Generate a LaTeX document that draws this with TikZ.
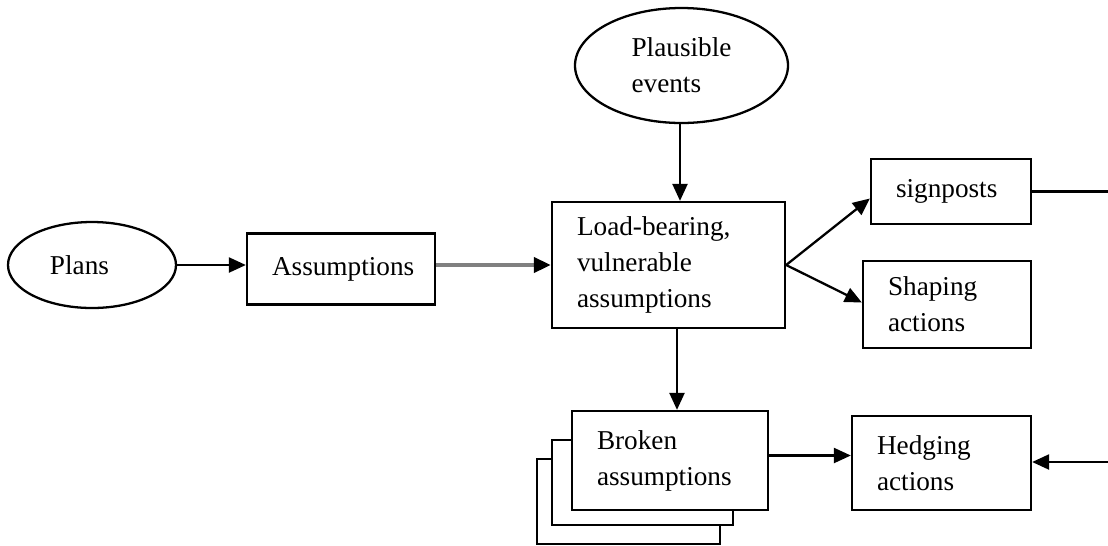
\documentclass[tikz,border=0pt]{standalone}
\usepackage{fontspec}
\setmainfont{Liberation Serif}
\usetikzlibrary{
  calc,
  arrows.meta,
  positioning,
  shapes.geometric
}

\begin{document}
\begin{tikzpicture}[
            font=\fontsize{15.5}{20.5}\selectfont,
            line width=1.3pt,
            oval/.style={ellipse, draw=black, fill=white, align=left, inner sep=0pt},
            box/.style={rectangle, draw=black, fill=white, align=left, inner xsep=0.5cm, inner ysep=0pt},
            arrow/.style={line width=1.3pt, -{Triangle[length=0.34cm, width=0.3cm]}},
            grayarrow/.style={line width=2.2pt, draw=gray, -{Triangle[length=0.34cm, width=0.3cm, color=black]}}
        ]
        \useasboundingbox (0,0) rectangle (22.16,-10.9);

        % Nodes
        \node (plans) [oval, minimum width=3.36cm, minimum height=1.72cm] at (1.84,-5.30) {Plans\hspace{0.5cm}};
        \node (assum) [box, text width=2.76cm, minimum height=1.42cm] at (6.82,-5.38) {Assumptions};
        \node (load) [box, text width=3.66cm, minimum height=2.52cm] at (13.37,-5.30) {Load-bearing,\\vulnerable\\assumptions};
        \node (plaus) [oval, minimum width=4.26cm, minimum height=2.30cm] at (13.63,-1.31) {Plausible\\events};

        \node (sign) [box, text width=2.20cm, minimum height=1.30cm] at (19.02,-3.83) {signposts};
        \node (shap) [box, text width=2.36cm, minimum height=1.74cm] at (18.94,-6.09) {Shaping\\actions};

        % Broken assumptions (stacked)
        \node (brk3) [box, minimum width=3.66cm, minimum height=1.70cm] at (12.57,-10.03) {};
        \node (brk2) [box, minimum width=3.62cm, minimum height=1.70cm] at (12.85,-9.65) {};
        \node (brk) [box, text width=2.92cm, minimum height=1.98cm] at (13.40,-9.21) {Broken\\assumptions};

        \node (hedg) [box, text width=2.58cm, minimum height=1.88cm] at (18.83,-9.26) {Hedging\\actions};

        \coordinate (sigend) at (22.16,-3.83);
        \coordinate (hedstart) at (22.16,-9.24);

        % Connections
        \draw [arrow] (plans.east) -- (plans.east -| assum.west);
        \draw [grayarrow] (assum.east |- load.west) -- (load.west);
        \draw [arrow] (plaus.south -| 13.60,0) -- (13.60,0 |- load.north);
        \draw [arrow] (load.east) -- ([yshift=-0.14cm]sign.west);
        \draw [arrow] (load.east) -- ([yshift=0.04cm]shap.west);
        \draw (sign.east) -- (sigend);
        \draw [arrow] (load.south -| 13.54,0) -- (13.54,0 |- brk.north);
        \draw [arrow] ([yshift=0.1cm]brk.east) -- ([yshift=0.1cm]brk.east -| hedg.west);
        \draw [arrow] (hedstart) -- (hedstart -| hedg.east);

    \end{tikzpicture}
\end{document}
